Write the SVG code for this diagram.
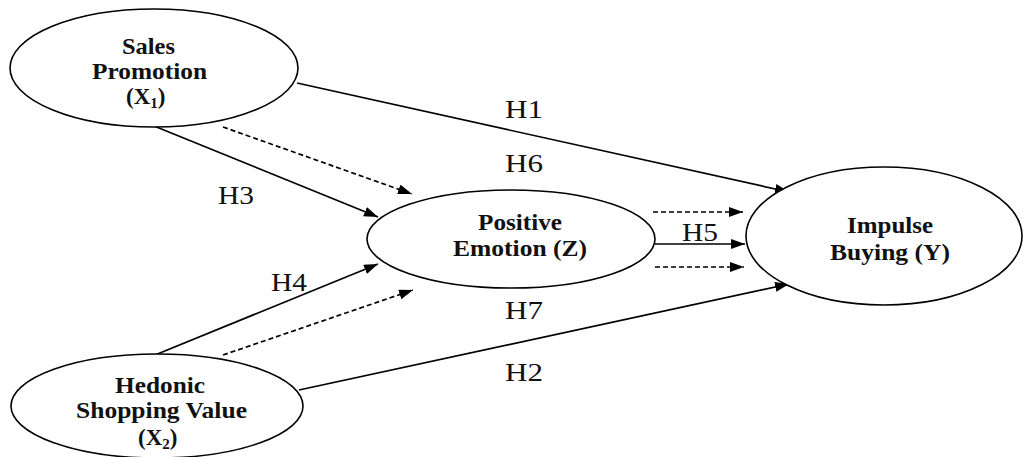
<svg xmlns="http://www.w3.org/2000/svg" width="1024" height="457" viewBox="0 0 1024 457">
<style>
.node{fill:#fff;stroke:#000;stroke-width:1.6}
.nt{font-family:"Liberation Serif","Times New Roman",serif;font-weight:bold;font-size:23px;fill:#111}
.lb{font-family:"Liberation Serif","Times New Roman",serif;font-size:25px;fill:#111}
.c{stroke:#000;stroke-width:1.7;fill:none;marker-end:url(#ah)}
.d{stroke-dasharray:5 3}
</style>
<defs>
<marker id="ah" viewBox="0 0 14 10" refX="14" refY="5" markerWidth="14" markerHeight="10" markerUnits="userSpaceOnUse" orient="auto">
<path d="M0,0 L14,5 L0,10 Z" fill="#000"/>
</marker>
</defs>
<rect width="1024" height="457" fill="#fff"/>
<g id="connectors">
<line class="c" x1="297" y1="83" x2="789" y2="192"/>
<line class="c d" x1="223" y1="127" x2="412" y2="194"/>
<line class="c" x1="154" y1="126" x2="378" y2="217"/>
<line class="c" x1="155" y1="355" x2="378" y2="264"/>
<line class="c d" x1="223" y1="355" x2="413" y2="290"/>
<line class="c" x1="299" y1="390" x2="789" y2="284"/>
<line class="c d" x1="653" y1="212" x2="743" y2="212"/>
<line class="c" x1="655" y1="244" x2="745" y2="244"/>
<line class="c d" x1="655" y1="267" x2="744" y2="267"/>
</g>
<g id="labels">
<text class="lb" x="505" y="118" textLength="38" lengthAdjust="spacingAndGlyphs">H1</text>
<text class="lb" x="505" y="172" textLength="38" lengthAdjust="spacingAndGlyphs">H6</text>
<text class="lb" x="218" y="204" textLength="36" lengthAdjust="spacingAndGlyphs">H3</text>
<text class="lb" x="271" y="291" textLength="36" lengthAdjust="spacingAndGlyphs">H4</text>
<text class="lb" x="682" y="241" textLength="36" lengthAdjust="spacingAndGlyphs">H5</text>
<text class="lb" x="505" y="319" textLength="38" lengthAdjust="spacingAndGlyphs">H7</text>
<text class="lb" x="505" y="381" textLength="38" lengthAdjust="spacingAndGlyphs">H2</text>
</g>
<g id="sales-promotion">
<ellipse class="node" cx="154" cy="68" rx="144" ry="59"/>
<text class="nt" x="122" y="54" textLength="53" lengthAdjust="spacingAndGlyphs">Sales</text>
<text class="nt" x="92" y="79" textLength="115" lengthAdjust="spacingAndGlyphs">Promotion</text>
<text class="nt" x="126" y="104" font-size="24">(X<tspan font-size="15" dy="4">1</tspan><tspan dy="-4">)</tspan></text>
</g>
<g id="hedonic-shopping-value">
<ellipse class="node" cx="157" cy="406" rx="146" ry="52"/>
<text class="nt" x="115" y="393" textLength="90" lengthAdjust="spacingAndGlyphs">Hedonic</text>
<text class="nt" x="76" y="418" textLength="171" lengthAdjust="spacingAndGlyphs">Shopping Value</text>
<text class="nt" x="138" y="445" font-size="24">(X<tspan font-size="15" dy="4">2</tspan><tspan dy="-4">)</tspan></text>
</g>
<g id="positive-emotion">
<ellipse class="node" cx="511" cy="239" rx="144" ry="49"/>
<text class="nt" x="478" y="230" textLength="84" lengthAdjust="spacingAndGlyphs">Positive</text>
<text class="nt" x="453" y="256" textLength="134" lengthAdjust="spacingAndGlyphs">Emotion (Z)</text>
</g>
<g id="impulse-buying">
<ellipse class="node" cx="884" cy="236" rx="138" ry="69"/>
<text class="nt" x="847" y="233" textLength="86" lengthAdjust="spacingAndGlyphs">Impulse</text>
<text class="nt" x="830" y="260" textLength="120" lengthAdjust="spacingAndGlyphs">Buying (Y)</text>
</g>
</svg>
